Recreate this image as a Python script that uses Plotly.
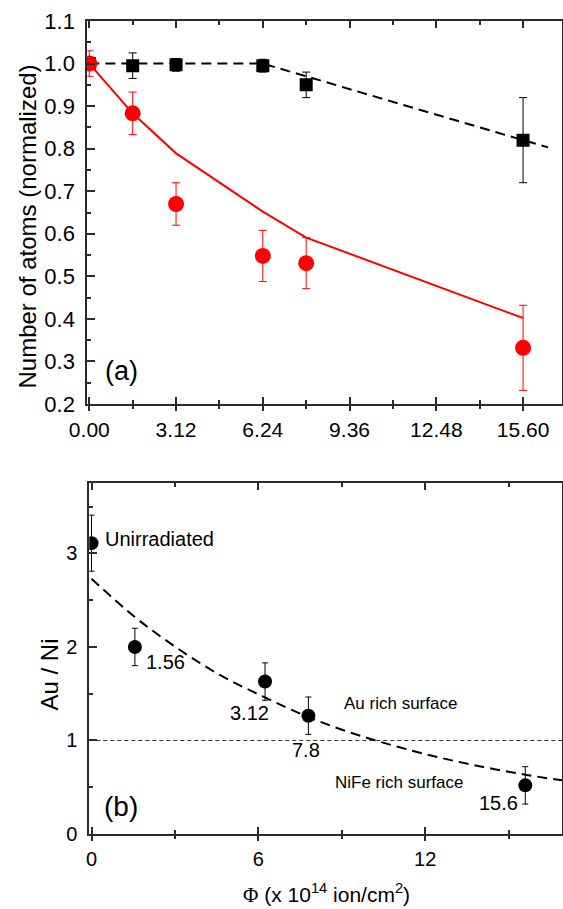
import plotly.graph_objects as go

W, H = 563, 909
FONT = "Arial, Liberation Sans, sans-serif"
AXIS_COLOR = "#2b2b2b"
RED = "#ff0000"

# ---------------- panel (a): normalised number of atoms ----------------
fluence = [0, 1.56, 3.12, 6.24, 7.8, 15.6]
squares_y = [1.0, 0.995, 0.997, 0.995, 0.95, 0.82]
squares_err = [0.015, 0.03, 0.015, 0.015, 0.03, 0.10]
circles_y = [1.0, 0.883, 0.670, 0.548, 0.531, 0.332]
circles_err = [0.03, 0.05, 0.05, 0.06, 0.06, 0.10]

squares_fit_x = [0, 6.24, 15.6, 16.5]
squares_fit_y = [1.0, 1.0, 0.82, 0.803]
circles_fit_x = [0, 1.56, 3.12, 6.24, 7.8, 15.6]
circles_fit_y = [1.0, 0.883, 0.789, 0.652, 0.591, 0.402]

xa_tickvals = [0, 3.12, 6.24, 9.36, 12.48, 15.60]
xa_ticktext = ["0.00", "3.12", "6.24", "9.36", "12.48", "15.60"]
ya_tickvals = [0.2, 0.3, 0.4, 0.5, 0.6, 0.7, 0.8, 0.9, 1.0, 1.1]
ya_ticktext = ["0.2", "0.3", "0.4", "0.5", "0.6", "0.7", "0.8", "0.9", "1.0", "1.1"]

# ---------------- panel (b): Au / Ni ratio ----------------
ratio_x = [0, 1.56, 6.24, 7.8, 15.6]
ratio_y = [3.11, 2.0, 1.63, 1.265, 0.52]
ratio_err = [0.3, 0.2, 0.2, 0.2, 0.2]

ratio_fit_x = [0, 1.56, 3.12, 4.68, 6.24, 7.8, 9.36, 10.92, 12.48, 14.04, 15.6, 16.92]
ratio_fit_y = [2.73, 2.32, 1.98, 1.69, 1.46, 1.25, 1.08, 0.94, 0.82, 0.72, 0.634, 0.574]

xb_tickvals = [0, 6, 12]
xb_ticktext = ["0", "6", "12"]
yb_tickvals = [0, 1, 2, 3]
yb_ticktext = ["0", "1", "2", "3"]

equal_ratio = 1.0

# dose labels next to the points: (text, x, y, xanchor)
dose_labels = [
    ("1.56", 1.87, 1.84, "left"),
    ("3.12", 6.46, 1.29, "right"),
    ("7.8", 7.70, 0.90, "center"),
    ("15.6", 15.40, 0.33, "right"),
]

fig = go.Figure()

# panel (a) curves
fig.add_trace(go.Scatter(
    x=squares_fit_x, y=squares_fit_y, mode="lines",
    line=dict(color="black", width=2, dash="10px,6px"),
    xaxis="x", yaxis="y", hoverinfo="skip"))
fig.add_trace(go.Scatter(
    x=circles_fit_x, y=circles_fit_y, mode="lines",
    line=dict(color=RED, width=2),
    xaxis="x", yaxis="y", hoverinfo="skip"))
fig.add_trace(go.Scatter(
    x=fluence, y=squares_y, mode="markers",
    marker=dict(symbol="square", size=13, color="black"),
    error_y=dict(type="data", array=squares_err, color="black", thickness=1, width=4),
    xaxis="x", yaxis="y"))
fig.add_trace(go.Scatter(
    x=fluence, y=circles_y, mode="markers",
    marker=dict(symbol="circle", size=16, color=RED),
    error_y=dict(type="data", array=circles_err, color=RED, thickness=1, width=4),
    xaxis="x", yaxis="y"))

# panel (b) curves
fig.add_trace(go.Scatter(
    x=ratio_fit_x, y=ratio_fit_y, mode="lines", line_shape="spline",
    line=dict(color="black", width=2, dash="10px,6px"),
    xaxis="x2", yaxis="y2", hoverinfo="skip"))
fig.add_trace(go.Scatter(
    x=ratio_x, y=ratio_y, mode="markers",
    marker=dict(symbol="circle", size=14, color="black"),
    error_y=dict(type="data", array=ratio_err, color="black", thickness=1, width=3),
    xaxis="x2", yaxis="y2"))

# empty traces that carry the outward half of the crossing x ticks
fig.add_trace(go.Scatter(x=[], y=[], xaxis="x3", yaxis="y", hoverinfo="skip"))
fig.add_trace(go.Scatter(x=[], y=[], xaxis="x4", yaxis="y2", hoverinfo="skip"))

fig.add_shape(type="line", xref="x2 domain", yref="y2", x0=0, x1=1,
              y0=equal_ratio, y1=equal_ratio,
              line=dict(color="#333333", width=1, dash="4px,3px"))

top_dom_x = [87.3 / W, 562 / W]
top_dom_y = [1 - 404 / H, 1 - 21 / H]
bot_dom_x = [89.3 / W, 562 / W]
bot_dom_y = [1 - 834 / H, 1 - 483.3 / H]
xa_range = [-0.072, 17.0]
xb_range = [-0.079, 16.92]


def main_x(domain, rng, tickvals, ticktext, minor_dtick, anchor, size):
    return dict(
        domain=domain, range=rng, anchor=anchor, automargin=False,
        tickmode="array", tickvals=tickvals, ticktext=ticktext,
        ticks="inside", ticklen=7, tickwidth=1.5, tickcolor=AXIS_COLOR,
        mirror="ticks", showline=True, linewidth=2, linecolor=AXIS_COLOR,
        minor=dict(tickmode="linear", tick0=0, dtick=minor_dtick, ticks="inside",
                   ticklen=4, tickwidth=1.5, tickcolor=AXIS_COLOR),
        showgrid=False, zeroline=False,
        tickfont=dict(family=FONT, size=size, color="black"),
        ticklabelstandoff=6,
    )


def overlay_x(over, rng, tickvals, minor_dtick, anchor):
    return dict(
        overlaying=over, range=rng, anchor=anchor, side="bottom", automargin=False,
        tickmode="array", tickvals=tickvals,
        ticks="outside", ticklen=6, tickwidth=1.5, tickcolor=AXIS_COLOR,
        minor=dict(tickmode="linear", tick0=0, dtick=minor_dtick, ticks="outside",
                   ticklen=4, tickwidth=1.5, tickcolor=AXIS_COLOR),
        showticklabels=False, showline=False, showgrid=False, zeroline=False,
    )


def main_y(domain, rng, tickvals, ticktext, minor_dtick, anchor, size):
    return dict(
        domain=domain, range=rng, anchor=anchor, automargin=False,
        tickmode="array", tickvals=tickvals, ticktext=ticktext,
        ticks="inside", ticklen=8, tickwidth=1.5, tickcolor=AXIS_COLOR,
        mirror=True, showline=True, linewidth=2, linecolor=AXIS_COLOR,
        minor=dict(tickmode="linear", tick0=0, dtick=minor_dtick, ticks="inside",
                   ticklen=4, tickwidth=1.5, tickcolor=AXIS_COLOR),
        showgrid=False, zeroline=False,
        tickfont=dict(family=FONT, size=size, color="black"),
        ticklabelstandoff=6,
    )


fig.update_layout(
    width=W, height=H,
    margin=dict(l=0, r=0, t=0, b=0, autoexpand=False),
    paper_bgcolor="white", plot_bgcolor="white",
    showlegend=False,
    font=dict(family=FONT, color="black"),
    xaxis=main_x(top_dom_x, xa_range, xa_tickvals, xa_ticktext, 1.56, "y", 21),
    yaxis=main_y(top_dom_y, [0.2, 1.1], ya_tickvals, ya_ticktext, 0.05, "x", 22),
    xaxis2=main_x(bot_dom_x, xb_range, xb_tickvals, xb_ticktext, 3, "y2", 20),
    yaxis2=main_y(bot_dom_y, [0, 3.75], yb_tickvals, yb_ticktext, 0.5, "x2", 20),
    xaxis3=overlay_x("x", xa_range, xa_tickvals, 1.56, "y"),
    xaxis4=overlay_x("x2", xb_range, xb_tickvals, 3, "y2"),
)

annotations = [
    dict(text="Number of atoms (normalized)", xref="paper", yref="paper",
         x=27 / W, y=1 - 226.5 / H, textangle=-90, font=dict(size=24),
         showarrow=False, xanchor="center", yanchor="middle"),
    dict(text="Au / Ni", xref="paper", yref="paper",
         x=48.5 / W, y=1 - 675 / H, textangle=-90, font=dict(size=24),
         showarrow=False, xanchor="center", yanchor="middle"),
    dict(text="<span style='font-family:Liberation Serif, serif'>Φ</span> (x 10<sup>14</sup> ion/cm<sup>2</sup>)",
         xref="paper", yref="paper", x=326.8 / W, y=1 - 893 / H,
         font=dict(size=21), showarrow=False, xanchor="center", yanchor="middle"),
    dict(text="(a)", xref="x", yref="y", x=1.16, y=0.277, font=dict(size=27),
         showarrow=False, xanchor="center", yanchor="middle"),
    dict(text="(b)", xref="x2", yref="y2", x=1.07, y=0.295, font=dict(size=28),
         showarrow=False, xanchor="center", yanchor="middle"),
    dict(text="Unirradiated", xref="x2", yref="y2", x=0.42, y=3.15, font=dict(size=20),
         showarrow=False, xanchor="left", yanchor="middle"),
    dict(text="Au rich surface", xref="x2", yref="y2", x=11.11, y=1.40, font=dict(size=17),
         showarrow=False, xanchor="center", yanchor="middle"),
    dict(text="NiFe rich surface", xref="x2", yref="y2", x=11.06, y=0.553, font=dict(size=17),
         showarrow=False, xanchor="center", yanchor="middle"),
]
for text, lx, ly, anchor in dose_labels:
    annotations.append(dict(text=text, xref="x2", yref="y2", x=lx, y=ly,
                            font=dict(size=20), showarrow=False,
                            xanchor=anchor, yanchor="middle"))
fig.update_layout(annotations=annotations)

fig.write_html("out.html")
